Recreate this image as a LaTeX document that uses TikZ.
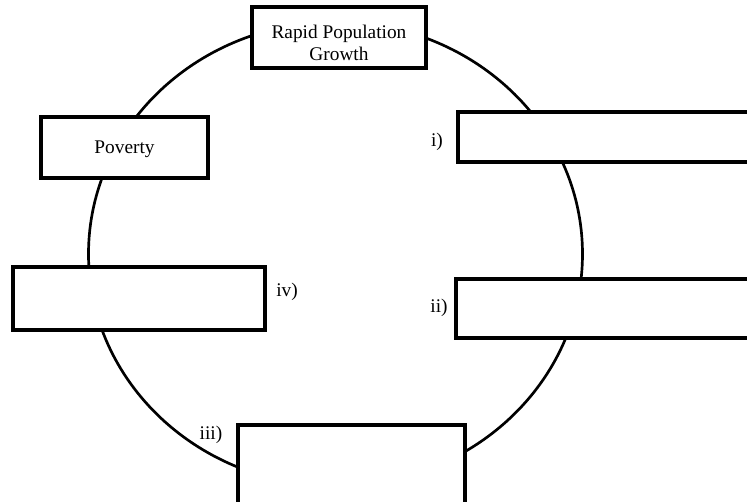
\documentclass[tikz,border=0pt]{standalone}
\usepackage{fontspec}
\setmainfont{Liberation Serif}
\begin{document}
\begin{tikzpicture}[x=0.75pt,y=-0.75pt,
  txt/.style={font=\fontsize{14.5}{17}\selectfont},
  box/.style={txt, draw=black, line width=2.3pt, fill=white, inner sep=0pt,
    outer sep=0pt, align=center},
  tag/.style={txt, inner sep=0pt}]
\clip (0,0) rectangle (747,502);
\fill[white] (0,0) rectangle (747,502);

% the cycle
\draw[line width=2pt] (335.5,254) ellipse [x radius=247, y radius=232];

% stages on the cycle
\node[box, minimum width=130.5pt, minimum height=45.75pt] (growth) at (339,37.5) {\rule{0pt}{18pt}Rapid Population\\Growth};
\node[box, minimum width=125.25pt, minimum height=45.75pt] (poverty) at (124.5,147.5) {\rule{0pt}{12.5pt}Poverty};
\node[box, minimum width=234pt, minimum height=37.5pt] (one) at (614,137) {};
\node[box, minimum width=235.5pt, minimum height=44.25pt] (two) at (613,308.5) {};
\node[box, minimum width=170.25pt, minimum height=71.25pt] (three) at (351.5,472.5) {};
\node[box, minimum width=189pt, minimum height=47.25pt] (four) at (139,298.5) {};

% numbering
\node[tag] (t1) at (437,142) {i)};
\node[tag] (t2) at (439,308) {ii)};
\node[tag] (t3) at (211,435) {iii)};
\node[tag] (t4) at (287,292) {iv)};
\end{tikzpicture}
\end{document}
